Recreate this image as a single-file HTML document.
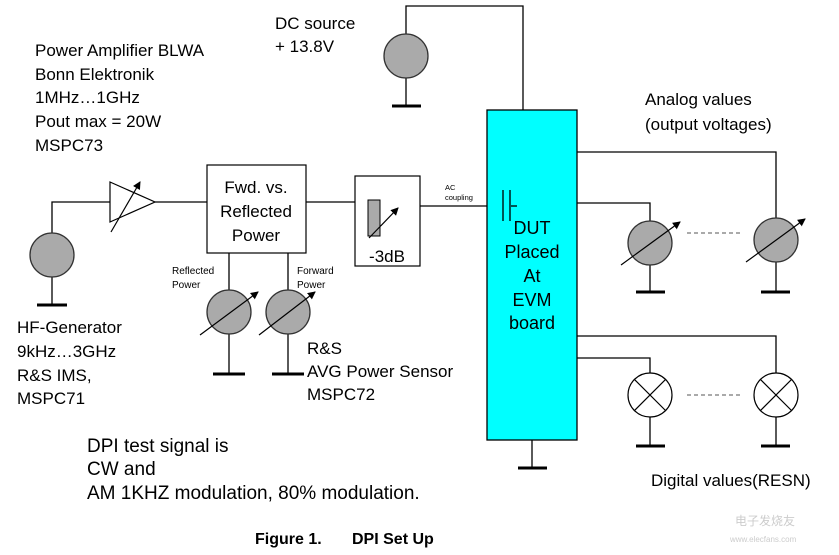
<!DOCTYPE html>
<html><head><meta charset="utf-8"><style>html,body{margin:0;padding:0;background:#fff}svg{display:block}</style></head>
<body>
<svg width="839" height="555" viewBox="0 0 839 555" xmlns="http://www.w3.org/2000/svg" font-family="Liberation Sans, Arial, sans-serif">
<defs><marker id="ah" markerWidth="8" markerHeight="8" refX="7" refY="4" orient="auto" markerUnits="userSpaceOnUse"><path d="M0,0 L8,4 L0,8 z" fill="#000"/></marker></defs>
<g stroke="#000" stroke-width="1.3" fill="none">
<polyline points="406,34 406,6 523,6 523,110"/>
<line x1="406" y1="78" x2="406" y2="106"/>
<polyline points="52,233 52,202 110,202"/>
<line x1="52" y1="277" x2="52" y2="305"/>
<line x1="155" y1="202" x2="207" y2="202"/>
<line x1="306" y1="202" x2="355" y2="202"/>
<line x1="420" y1="206" x2="503" y2="206"/>
<line x1="229" y1="253" x2="229" y2="374"/>
<line x1="288" y1="253" x2="288" y2="374"/>
<line x1="532" y1="440" x2="532" y2="468"/>
<polyline points="577,152 776,152 776,218"/>
<polyline points="577,203 650,203 650,221"/>
<line x1="650" y1="265" x2="650" y2="292"/>
<line x1="776" y1="262" x2="776" y2="292"/>
<polyline points="577,336 776,336 776,373"/>
<polyline points="577,358 650,358 650,373"/>
<line x1="650" y1="417" x2="650" y2="446"/>
<line x1="776" y1="417" x2="776" y2="446"/>
</g>
<g stroke="#000" stroke-width="3">
<line x1="392" y1="106" x2="421" y2="106"/>
<line x1="37" y1="305" x2="67" y2="305"/>
<line x1="213" y1="374" x2="245" y2="374"/>
<line x1="272" y1="374" x2="304" y2="374"/>
<line x1="518" y1="468" x2="547" y2="468"/>
<line x1="636" y1="292" x2="665" y2="292"/>
<line x1="761" y1="292" x2="790" y2="292"/>
<line x1="636" y1="446" x2="665" y2="446"/>
<line x1="761" y1="446" x2="790" y2="446"/>
</g>
<rect x="487" y="110" width="90" height="330" fill="#00ffff" stroke="#000" stroke-width="1.3"/>
<g stroke="#005555" stroke-width="2"><line x1="503" y1="190" x2="503" y2="221"/><line x1="510" y1="190" x2="510" y2="221"/><line x1="510" y1="206" x2="517" y2="206"/></g>
<g fill="#aaaaaa" stroke="#333" stroke-width="1.3">
<circle cx="406" cy="56" r="22"/>
<circle cx="52" cy="255" r="22"/>
<circle cx="229" cy="312" r="22"/>
<circle cx="288" cy="312" r="22"/>
<circle cx="650" cy="243" r="22"/>
<circle cx="776" cy="240" r="22"/>
</g>
<g stroke="#000" stroke-width="1.2" marker-end="url(#ah)">
<line x1="200" y1="335" x2="258" y2="292"/>
<line x1="259" y1="335" x2="315" y2="292"/>
<line x1="621" y1="265" x2="680" y2="222"/>
<line x1="746" y1="262" x2="805" y2="219"/>
<line x1="111" y1="232" x2="140" y2="182"/>
</g>
<polygon points="110,182 110,222 155,202" fill="none" stroke="#000" stroke-width="1.2"/>
<rect x="207" y="165" width="99" height="88" fill="#fff" stroke="#000" stroke-width="1.2"/>
<rect x="355" y="176" width="65" height="90" fill="#fff" stroke="#000" stroke-width="1.2"/>
<rect x="368" y="200" width="12" height="36" fill="#aaaaaa" stroke="#000" stroke-width="1"/>
<line x1="369" y1="238" x2="398" y2="208" stroke="#000" stroke-width="1.2" marker-end="url(#ah)"/>
<g fill="#fff" stroke="#000" stroke-width="1.2">
<circle cx="650" cy="395" r="22"/><circle cx="776" cy="395" r="22"/>
<path d="M634,379 L666,411 M666,379 L634,411 M760,379 L792,411 M792,379 L760,411"/>
</g>
<g stroke="#555" stroke-width="1" stroke-dasharray="4,3"><line x1="687" y1="233" x2="740" y2="233"/><line x1="687" y1="395" x2="740" y2="395"/></g>
<g font-size="17" fill="#000">
<text x="275" y="29">DC source</text>
<text x="275" y="52">+ 13.8V</text>
<text x="35" y="56">Power Amplifier BLWA</text>
<text x="35" y="80">Bonn Elektronik</text>
<text x="35" y="103">1MHz…1GHz</text>
<text x="35" y="127">Pout max = 20W</text>
<text x="35" y="151">MSPC73</text>
<text x="256" y="193" text-anchor="middle">Fwd. vs.</text>
<text x="256" y="217" text-anchor="middle">Reflected</text>
<text x="256" y="241" text-anchor="middle">Power</text>
<text x="387" y="262" text-anchor="middle">-3dB</text>
<text x="17" y="333">HF-Generator</text>
<text x="17" y="357">9kHz…3GHz</text>
<text x="17" y="381">R&amp;S IMS,</text>
<text x="17" y="404">MSPC71</text>
<text x="307" y="354">R&amp;S</text>
<text x="307" y="377">AVG Power Sensor</text>
<text x="307" y="400">MSPC72</text>
<text x="645" y="105">Analog values</text>
<text x="645" y="130">(output voltages)</text>
<text x="651" y="486">Digital values(RESN)</text>
<g text-anchor="middle" font-size="18"><text x="532" y="234">DUT</text><text x="532" y="258">Placed</text><text x="532" y="282">At</text><text x="532" y="306">EVM</text><text x="532" y="329">board</text></g>
<g font-size="19">
<text x="87" y="452">DPI test signal is</text>
<text x="87" y="475">CW and</text>
<text x="87" y="499">AM 1KHZ modulation, 80% modulation.</text>
</g>
</g>
<g font-size="10" fill="#000">
<text x="172" y="274">Reflected</text><text x="172" y="288">Power</text>
<text x="297" y="274">Forward</text><text x="297" y="288">Power</text>
</g>
<g font-size="7.5" fill="#000"><text x="445" y="190">AC</text><text x="445" y="200">coupling</text></g>
<g font-size="16" font-weight="bold"><text x="255" y="544">Figure 1.</text><text x="352" y="544">DPI Set Up</text></g>
<g fill="#ccc" font-size="12" font-family="Liberation Sans, Noto Sans CJK SC, sans-serif"><text x="735" y="525">电子发烧友</text><text x="730" y="542" font-size="8">www.elecfans.com</text></g>
</svg>
</body></html>
